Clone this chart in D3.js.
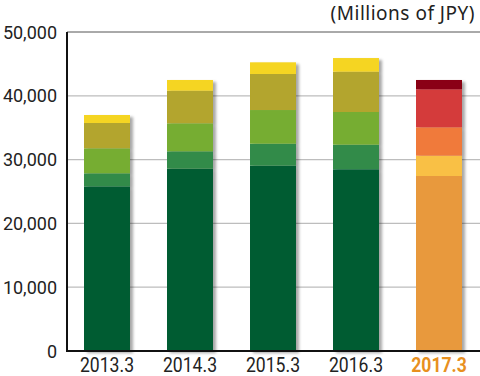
<!DOCTYPE html>
<html>
<head>
<meta charset="utf-8">
<script src="https://cdn.jsdelivr.net/npm/d3@7"></script>
<style>
  body { margin: 0; background: #fff; }
  svg { display: block; }
</style>
</head>
<body>
<script>
// données (millions de JPY)
const years = ["2013.3", "2014.3", "2015.3", "2016.3", "2017.3"];
const seg1 = [25800, 28570, 29040, 28480, 27430];
const seg2 = [2050, 2730, 3450, 3860, 3180];
const seg3 = [3920, 4390, 5280, 5120, 4450];
const seg4 = [3970, 5110, 5650, 6320, 5960];
const seg5 = [1250, 1680, 1830, 2140, 1460];
const yTicks = [0, 10000, 20000, 30000, 40000, 50000];

const greens = ["#005C32", "#338B4A", "#76AD33", "#B3A52D", "#F5D522"];
const oranges = ["#E8993C", "#F9C044", "#F07A3A", "#D43B3B", "#8A0012"];

const tableau = years.map((y, i) => ({
  annee: y, s1: seg1[i], s2: seg2[i], s3: seg3[i], s4: seg4[i], s5: seg5[i]
}));
const keys = ["s1", "s2", "s3", "s4", "s5"];
const series = d3.stack().keys(keys)(tableau);

const width = 480, height = 376;
const svg = d3.select("body").append("svg")
  .attr("width", width)
  .attr("height", height);

const x = d3.scaleBand()
  .domain(years)
  .range([65.5, 480.5])
  .paddingInner(0.446)
  .paddingOuter(0.223);

const y = d3.scaleLinear()
  .domain([0, 50000])
  .range([351, 32]);

// ombre des barres
const defs = svg.append("defs");
const f = defs.append("filter").attr("id", "ombre")
  .attr("x", "-20%").attr("y", "-10%").attr("width", "150%").attr("height", "130%");
f.append("feGaussianBlur").attr("in", "SourceAlpha").attr("stdDeviation", 1.5);
f.append("feOffset").attr("dx", 3).attr("dy", 2).attr("result", "b");
f.append("feComponentTransfer").append("feFuncA").attr("type", "linear").attr("slope", 0.35);
const m = f.append("feMerge");
m.append("feMergeNode");
m.append("feMergeNode").attr("in", "SourceGraphic");

// grille
svg.append("g")
  .selectAll("line")
  .data(yTicks.filter(t => t > 0 && t < 50000))
  .enter().append("line")
  .attr("x1", 67).attr("x2", width)
  .attr("y1", d => y(d)).attr("y2", d => y(d))
  .attr("stroke", "#bdbdbd").attr("stroke-width", 1.2);

svg.append("line")
  .attr("x1", 67).attr("x2", width)
  .attr("y1", y(50000)).attr("y2", y(50000))
  .attr("stroke", "#555").attr("stroke-width", 1);

// barres
const bars = svg.append("g");
tableau.forEach((d, i) => {
  const g = bars.append("g").attr("filter", "url(#ombre)");
  const colors = i === 4 ? oranges : greens;
  series.forEach((s, k) => {
    g.append("rect")
      .attr("x", x(d.annee))
      .attr("width", x.bandwidth())
      .attr("y", y(s[i][1]))
      .attr("height", y(s[i][0]) - y(s[i][1]))
      .attr("fill", colors[k]);
  });
});

// axes
svg.append("line")
  .attr("x1", 67).attr("x2", 67)
  .attr("y1", y(50000)).attr("y2", y(0) + 1)
  .attr("stroke", "#111").attr("stroke-width", 2);
svg.append("line")
  .attr("x1", 66).attr("x2", width)
  .attr("y1", y(0)).attr("y2", y(0))
  .attr("stroke", "#111").attr("stroke-width", 2);

const font = "Roboto, 'Liberation Sans', sans-serif";

svg.append("g")
  .selectAll("text")
  .data(yTicks)
  .enter().append("text")
  .attr("x", 57)
  .attr("y", d => y(d) + 6.5)
  .attr("text-anchor", "end")
  .style("font-family", font)
  .style("font-size", "18px")
  .style("fill", "#222")
  .text(d => d3.format(",")(d));

svg.append("g")
  .selectAll("text")
  .data(years)
  .enter().append("text")
  .attr("transform", d => "translate(" + (x(d) + x.bandwidth() / 2) + ",372) scale(0.88,1)")
  .attr("text-anchor", "middle")
  .style("font-family", font)
  .style("font-size", "20px")
  .style("font-weight", (d, i) => i === 4 ? "bold" : "normal")
  .style("fill", (d, i) => i === 4 ? "#E8901E" : "#222")
  .text(d => d);

svg.append("text")
  .text("(Millions of JPY)")
  .attr("x", 475)
  .attr("y", 20)
  .attr("text-anchor", "end")
  .style("font-family", "'Noto Sans', 'DejaVu Sans', sans-serif")
  .style("font-size", "19px")
  .style("letter-spacing", "0.5px")
  .style("fill", "#222");
</script>
</body>
</html>
